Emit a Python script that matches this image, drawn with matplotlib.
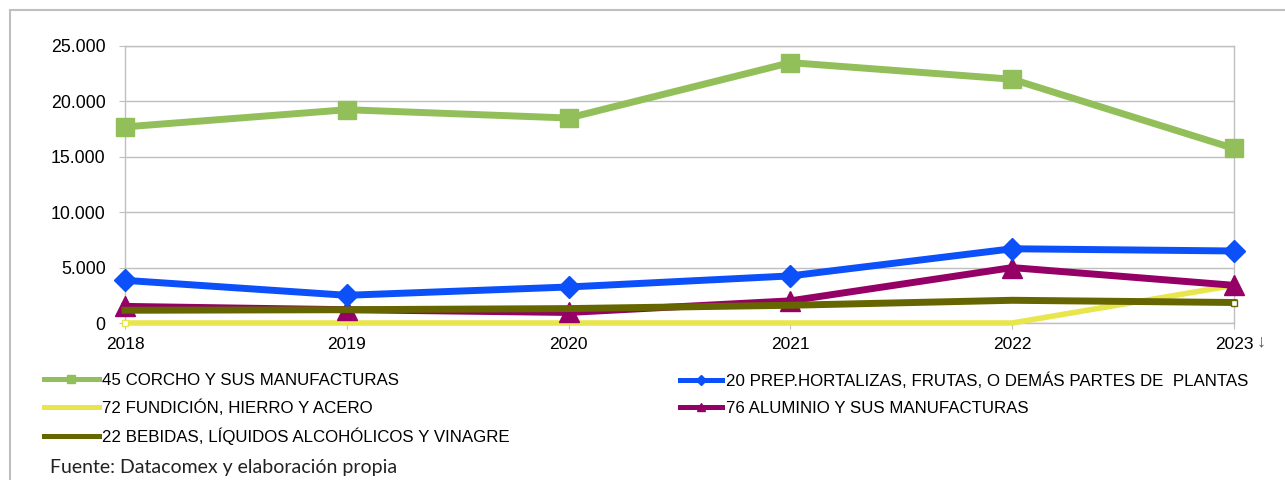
import matplotlib
matplotlib.use("Agg")
import matplotlib.pyplot as plt
from matplotlib.ticker import FuncFormatter
from matplotlib.patches import Rectangle

years = [2018, 2019, 2020, 2021, 2022, 2023]

corcho = [17700, 19250, 18500, 23500, 22000, 15750]
hortalizas = [3850, 2500, 3250, 4250, 6700, 6500]
fundicion = [0, 0, 0, 0, 0, 3400]
aluminio = [1500, 1200, 950, 2000, 5000, 3400]
bebidas = [1150, 1200, 1300, 1600, 2050, 1850]

labels = [
    "45 CORCHO Y SUS MANUFACTURAS",
    "20 PREP.HORTALIZAS, FRUTAS, O DEMÁS PARTES DE  PLANTAS",
    "72 FUNDICIÓN, HIERRO Y ACERO",
    "76 ALUMINIO Y SUS MANUFACTURAS",
    "22 BEBIDAS, LÍQUIDOS ALCOHÓLICOS Y VINAGRE",
]
fuente = "Fuente: Datacomex y elaboración propia"

plt.rcParams['font.family'] = ['Liberation Sans', 'DejaVu Sans']

fig = plt.figure(figsize=(12.85, 4.8), dpi=100)
ax = fig.add_axes([125 / 1285, 1 - 323 / 480, (1234 - 125) / 1285, (323 - 46) / 480])

# outer frame of the chart
fig.patches.append(Rectangle((10 / 1285, -0.05), 1.1, 1 - 10 / 480 + 0.05,
                             transform=fig.transFigure, fill=False,
                             edgecolor="#bfbfbf", linewidth=1.5))

grid_c = "#bfbfbf"
ax.set_xlim(2018, 2023)
ax.set_ylim(0, 25000)
ax.set_yticks(range(0, 25001, 5000))
ax.set_xticks(years)
ax.yaxis.set_major_formatter(FuncFormatter(lambda v, p: f"{int(v):,}".replace(",", ".")))
ax.grid(axis="y", color=grid_c, linewidth=1)
ax.set_axisbelow(True)
for s in ax.spines.values():
    s.set_color(grid_c)
    s.set_linewidth(1)
ax.tick_params(axis="both", colors=grid_c, labelcolor="black", length=4)
ax.tick_params(axis="y", labelsize=12.8, pad=10)
ax.tick_params(axis="x", labelsize=12.5, pad=6)
ax.set_xticklabels([str(y) for y in years])
ax.text(2023.1, -950, "↓", ha="left", va="top", fontsize=13, color="#555555", clip_on=False)

h_green, = ax.plot(years, corcho, color="#92bf5a", lw=5, marker="s", ms=13, clip_on=False, zorder=5)
h_blue, = ax.plot(years, hortalizas, color="#0c50fa", lw=5, marker="D", ms=11, clip_on=False, zorder=5)
h_yellow, = ax.plot(years, fundicion, color="#e8e64c", lw=4, marker="s", ms=5, markevery=[0, 5],
                    mfc="white", mec="#e8e64c", mew=1, clip_on=False, zorder=3)
h_purple, = ax.plot(years, aluminio, color="#940066", lw=5, marker="^", ms=14, clip_on=False, zorder=3)
h_olive, = ax.plot(years, bebidas, color="#666600", lw=5, marker="s", ms=5, markevery=[5],
                   mfc="white", mec="#666600", mew=1, clip_on=False, zorder=4)


def add_legend(hs, texts, x, hlen):
    leg = fig.legend(hs, texts, loc="upper left", bbox_to_anchor=(x / 1285, 1 - 366 / 480),
                     ncol=1, frameon=False, handlelength=hlen, handletextpad=0.2,
                     labelspacing=0.68, prop={"size": 12.2}, borderaxespad=0)
    for h in leg.legend_handles:
        h.set_linewidth(3.6)
        h.set_markersize(5.5)
    return leg


leg1 = add_legend([h_green, h_yellow, h_olive], [labels[0], labels[2], labels[4]], 37, 3.25)
for h in (leg1.legend_handles[1], leg1.legend_handles[2]):
    h.set_marker("None")
add_legend([h_blue, h_purple], [labels[1], labels[3]], 673, 2.5)

fig.text(50 / 1285, 1 - 468 / 480, fuente, ha="left", va="center",
         fontsize=14, family=["Lato", "DejaVu Sans"], color="#222222")

fig.savefig("out.png", dpi=100)
